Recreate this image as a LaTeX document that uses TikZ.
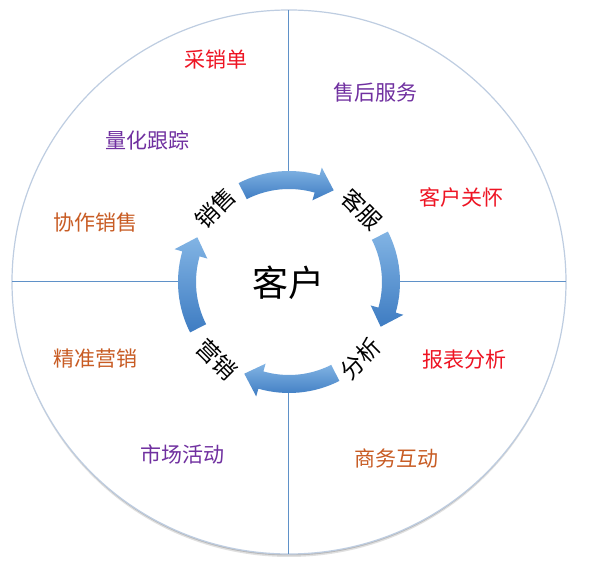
\documentclass[tikz,border=0pt]{standalone}
\usepackage{fontspec}
\newfontfamily\cjk{Noto Sans CJK SC}
\usetikzlibrary{positioning}

\definecolor{divline}{RGB}{95,145,200}
\definecolor{rimline}{RGB}{190,205,225}
\definecolor{arrowlight}{RGB}{130,180,228}
\definecolor{arrowdark}{RGB}{62,124,194}
\definecolor{tagred}{RGB}{238,20,35}
\definecolor{tagpurple}{RGB}{112,48,160}
\definecolor{tagorange}{RGB}{200,92,36}

% one curved arrow of the ring, centred on angle #1, running clockwise
\newcommand{\ringarrow}[1]{%
  \shade[arrowfill] ({#1+27}:111) arc[start angle={#1+27}, end angle={#1-16}, radius=111]
    -- ({#1-16}:119) -- ({#1-26}:102) -- ({#1-16}:85) -- ({#1-16}:93)
    arc[start angle={#1-16}, end angle={#1+27}, radius=93] -- cycle;}

\begin{document}
\begin{tikzpicture}[
  x=1pt, y=1pt,
  font=\cjk,
  tag/.style={font=\cjk\fontsize{21}{21}\selectfont, inner sep=0pt},
  redtag/.style={tag, text=tagred},
  purpletag/.style={tag, text=tagpurple},
  orangetag/.style={tag, text=tagorange},
  steplabel/.style={font=\cjk\fontsize{23}{23}\selectfont, inner sep=0pt},
  hub/.style={font=\cjk\fontsize{36}{36}\selectfont, inner sep=0pt},
  arrowfill/.style={top color=arrowlight, bottom color=arrowdark},
  divider/.style={draw=divline, line width=1pt},
]
\useasboundingbox (-289,-287) rectangle (303,282);

% disc with a soft shadow
\foreach \d/\o in {1/0.22, 2.5/0.18, 4/0.12}
  \fill[black, opacity=\o] (0,-\d) ellipse (276 and 271);
\filldraw[fill=white, draw=rimline, line width=1.2pt] (0,0) ellipse (277 and 272);

% quadrant dividers
\foreach \a/\r in {0/277, 90/272, 180/277, 270/272}
  \draw[divider] (\a:102) -- (\a:\r);

% cycle arrows
\foreach \a in {90, 0, -90, 180}
  \ringarrow{\a};

\node[hub] (customer) at (0,-1) {客户};

\node[steplabel, rotate=45]  (sales)     at (135:104)  {销售};
\node[steplabel, rotate=-45] (service)   at (45:103)   {客服};
\node[steplabel, rotate=45]  (analysis)  at (-47:105)  {分析};
\node[steplabel, rotate=-45] (marketing) at (-133:106) {营销};

\node[redtag]    (orders)   at (-73,222)  {采销单};
\node[purpletag] (tracking) at (-141,142) {量化跟踪};
\node[orangetag] (teamsale) at (-193,59)  {协作销售};
\node[purpletag] (aftersale) at (87,189)  {售后服务};
\node[redtag]    (care)     at (173,85)   {客户关怀};
\node[redtag]    (reports)  at (175,-78)  {报表分析};
\node[orangetag] (business) at (108,-176) {商务互动};
\node[purpletag] (campaign) at (-106,-172) {市场活动};
\node[orangetag] (precise)  at (-193,-77)  {精准营销};

\end{tikzpicture}
\end{document}
